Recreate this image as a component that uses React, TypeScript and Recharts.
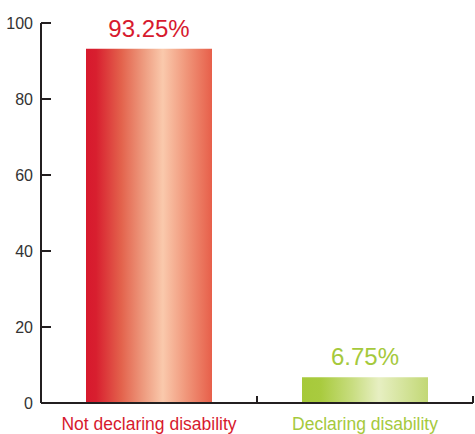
import { BarChart, Bar, XAxis, YAxis, Cell, LabelList } from "recharts";

const categories = ["Not declaring disability", "Declaring disability"];
const shares = [93.25, 6.75];
const valueLabels = ["93.25%", "6.75%"];
const yTicks = [0, 20, 40, 60, 80, 100];

const colors = ["#d71a2e", "#a5c93c"];
const gradientIds = ["gradRed", "gradGreen"];

const data = categories.map((name, i) => ({ name, share: shares[i], label: valueLabels[i] }));

const AXIS_COLOR = "#231f20";
const FONT = "'Liberation Sans', Arial, sans-serif";

function YTick(props: any) {
  const { x, y, payload } = props;
  const axisX = x + 8;
  return (
    <g>
      <line x1={axisX} x2={axisX + 10} y1={y} y2={y} stroke={AXIS_COLOR} strokeWidth={2} />
      <text x={x} y={y} dy="0.36em" textAnchor="end" fill="#333" fontSize={16} fontFamily={FONT}>
        {payload.value}
      </text>
    </g>
  );
}

// category label under each band, plus a short upward tick at the band's right edge
function XTick(props: any) {
  const { x, y, payload, index } = props;
  const edge = x + (payload.offset ?? 0);
  return (
    <g>
      <line x1={edge} x2={edge} y1={y} y2={y - 7} stroke={AXIS_COLOR} strokeWidth={2} />
      <text x={x} y={y + 27} textAnchor="middle" fill={colors[index]} fontSize={17.5} fontFamily={FONT}>
        {payload.value}
      </text>
    </g>
  );
}

function ValueLabel(props: any) {
  const { x, y, width, index, value } = props;
  return (
    <text
      x={x + width / 2}
      y={y - 12}
      textAnchor="middle"
      fill={colors[index]}
      fontSize={24}
      fontFamily={FONT}
    >
      {value}
    </text>
  );
}

export default function App() {
  return (
    <div style={{ width: 475, height: 434 }}>
      <style>{`body { margin: 0; }`}</style>
      <BarChart
        width={475}
        height={434}
        data={data}
        margin={{ top: 23, right: 2, left: 0, bottom: 0 }}
      >
        <defs>
          <linearGradient id="gradRed" x1="0" y1="0" x2="1" y2="0">
            <stop offset="0%" stopColor="#d7192d" />
            <stop offset="8%" stopColor="#d81f2f" />
            <stop offset="28%" stopColor="#e3624c" />
            <stop offset="46%" stopColor="#ee9c80" />
            <stop offset="61%" stopColor="#fac9ac" />
            <stop offset="80%" stopColor="#f09579" />
            <stop offset="100%" stopColor="#e75f4a" />
          </linearGradient>
          <linearGradient id="gradGreen" x1="0" y1="0" x2="1" y2="0">
            <stop offset="0%" stopColor="#a6c93a" />
            <stop offset="15%" stopColor="#a9cb3f" />
            <stop offset="40%" stopColor="#c8dd80" />
            <stop offset="61%" stopColor="#e7efc2" />
            <stop offset="100%" stopColor="#c2d875" />
          </linearGradient>
        </defs>
        <XAxis
          dataKey="name"
          height={31}
          axisLine={{ stroke: AXIS_COLOR, strokeWidth: 2 }}
          tickLine={false}
          tickSize={0}
          tickMargin={0}
          tick={<XTick />}
          interval={0}
        />
        <YAxis
          width={41}
          domain={[0, 100]}
          ticks={yTicks}
          axisLine={{ stroke: AXIS_COLOR, strokeWidth: 2 }}
          tickLine={false}
          tickSize={0}
          tickMargin={8}
          tick={<YTick />}
          interval={0}
        />
        <Bar dataKey="share" barSize={126} isAnimationActive={false}>
          {data.map((d, i) => (
            <Cell key={d.name} fill={`url(#${gradientIds[i]})`} />
          ))}
          <LabelList dataKey="label" content={<ValueLabel />} />
        </Bar>
      </BarChart>
    </div>
  );
}
